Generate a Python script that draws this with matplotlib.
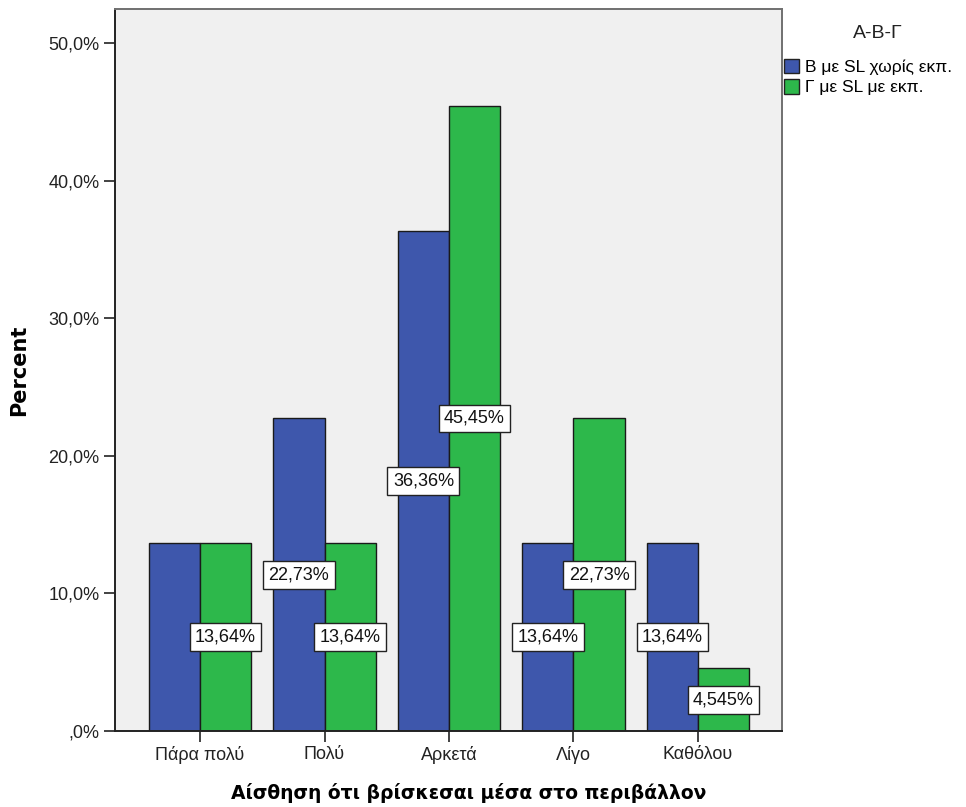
import matplotlib
matplotlib.use("Agg")
import matplotlib.pyplot as plt
import numpy as np
from matplotlib.patches import Patch

categories = ["Πάρα πολύ", "Πολύ", "Αρκετά", "Λίγο", "Καθόλου"]
series_names = ["Β με SL χωρίς εκπ.", "Γ με SL με εκπ."]
values_b = [13.64, 22.73, 36.36, 13.64, 13.64]
values_g = [13.64, 13.64, 45.45, 22.73, 4.545]
labels_b = [None, "22,73%", "36,36%", "13,64%", "13,64%"]
labels_g = ["13,64%", "13,64%", "45,45%", "22,73%", "4,545%"]
yticks = [0, 10, 20, 30, 40, 50]
ytick_labels = [",0%", "10,0%", "20,0%", "30,0%", "40,0%", "50,0%"]

blue = "#3E57AC"
green = "#2DB84B"
font = ["Liberation Sans", "DejaVu Sans"]

fig = plt.figure(figsize=(9.66, 8.07), dpi=100)
ax = fig.add_axes([115 / 966, 1 - 731 / 807, (782 - 115) / 966, (731 - 9) / 807])
ax.set_facecolor("#F0F0F0")

x = np.arange(len(categories))
w = 0.41
ax.bar(x - w / 2, values_b, w, color=blue, edgecolor="#1a1a1a", linewidth=1.0, zorder=2)
ax.bar(x + w / 2, values_g, w, color=green, edgecolor="#1a1a1a", linewidth=1.0, zorder=2)

box = dict(boxstyle="square,pad=0.3", facecolor="white", edgecolor="#222222", linewidth=1.0)
for xi, v, lab in zip(x - w / 2, values_b, labels_b):
    if lab:
        ax.text(xi, v / 2, lab, ha="center", va="center", fontsize=13,
                family=font, color="#111111", bbox=box, zorder=4)
for xi, v, lab in zip(x + w / 2, values_g, labels_g):
    if lab:
        ax.text(xi, v / 2, lab, ha="center", va="center", fontsize=13,
                family=font, color="#111111", bbox=box, zorder=4)

ax.set_xlim(-0.683, 4.675)
ax.set_ylim(0, 52.5)
ax.set_yticks(yticks)
ax.set_yticklabels(ytick_labels, family=font, fontsize=13, color="#222222")
ax.set_xticks(x)
ax.set_xticklabels(categories, family=font, fontsize=13, color="#222222")
ax.tick_params(axis="both", direction="out", length=8, width=1.2, color="#222222", pad=3)

for side in ["left", "bottom"]:
    ax.spines[side].set_color("#222222")
    ax.spines[side].set_linewidth(1.4)
for side in ["top", "right"]:
    ax.spines[side].set_color("#707070")
    ax.spines[side].set_linewidth(1.4)

ax.set_ylabel("Percent", family=["DejaVu Sans"], fontsize=15, fontweight="bold")
ax.yaxis.set_label_coords(-0.128, 0.5)
ax.set_xlabel("Αίσθηση ότι βρίσκεσαι μέσα στο περιβάλλον", family=["DejaVu Sans"],
              fontsize=13.5, fontweight="bold", va="center")
ax.xaxis.set_label_coords(0.53, -(793 - 731) / 722)

handles = [Patch(facecolor=blue, edgecolor="#222222", linewidth=1.0),
           Patch(facecolor=green, edgecolor="#222222", linewidth=1.0)]
fig.text(878 / 966, 1 - 33 / 807, "Α-Β-Γ", ha="center", va="center",
         family=font, fontsize=14, color="#222222")
leg = fig.legend(handles, series_names, loc="upper left",
                 bbox_to_anchor=(782 / 966, 1 - 57 / 807), frameon=False,
                 prop={"family": font, "size": 12.5}, handlelength=0.9, handleheight=0.9,
                 handletextpad=0.3, labelspacing=0.25, borderaxespad=0, borderpad=0.1)

fig.savefig("out.png", dpi=100, facecolor="white")
